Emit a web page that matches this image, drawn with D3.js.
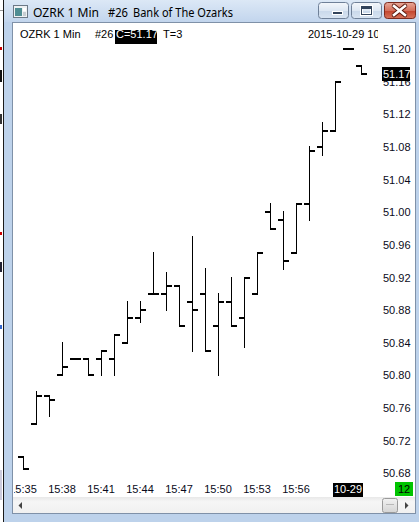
<!DOCTYPE html>
<html><head><meta charset="utf-8">
<script src="https://cdn.jsdelivr.net/npm/d3@7"></script>
<style>body{margin:0;background:#fff;overflow:hidden}svg{display:block}</style>
</head><body>
<script>
// ---- data ----
const times  = ["15:35","15:36","15:37","15:38","15:39","15:40","15:41","15:42","15:43","15:44","15:45","15:46","15:47","15:48","15:49","15:50","15:51","15:52","15:53","15:54","15:55","15:56","15:57","15:58","15:59","16:00","16:01"];
const opens  = [50.70,50.74,50.775,50.80,50.82,50.82,50.82,50.82,50.84,50.87,50.90,50.90,50.91,50.89,50.90,50.86,50.89,50.87,50.90,51.00,50.99,50.95,51.01,51.08,51.10,51.20,51.18];
const highs  = [50.70,50.78,50.775,50.84,50.82,50.82,50.83,50.85,50.89,50.89,50.95,50.925,50.91,50.97,50.93,50.90,50.92,50.92,50.95,51.01,51.00,51.01,51.08,51.11,51.16,51.20,51.18];
const lows   = [50.685,50.74,50.75,50.80,50.82,50.80,50.80,50.80,50.84,50.865,50.90,50.88,50.86,50.83,50.83,50.80,50.86,50.835,50.90,50.98,50.93,50.95,50.99,51.07,51.10,51.20,51.17];
const closes = [50.685,50.775,50.77,50.81,50.82,50.80,50.83,50.85,50.87,50.88,50.90,50.91,50.86,50.88,50.83,50.89,50.86,50.92,50.95,50.98,50.94,51.01,51.075,51.10,51.16,51.20,51.17];
const priceTicks = [51.20,51.16,51.12,51.08,51.04,51.00,50.96,50.92,50.88,50.84,50.80,50.76,50.72,50.68];
const timeTickLabels = ["15:35","15:38","15:41","15:44","15:47","15:50","15:53","15:56"];
const dateTickTime = "16:00", dateTickText = "10-29";
const lastPrice = 51.17;
const windowTitle = ["OZRK 1 Min", "#26", "Bank of The Ozarks"];
const headerText = ["OZRK 1 Min", "#26", "C=51.17", "T=3", "2015-10-29 10:01"];
const badgeText = "12";

const W = 419, H = 522;
const svg = d3.select("body").append("svg").attr("width", W).attr("height", H)
  .attr("shape-rendering", "crispEdges");
const defs = svg.append("defs");

function grad(id, stops) {
  const g = defs.append("linearGradient").attr("id", id).attr("x1",0).attr("y1",0).attr("x2",0).attr("y2",1);
  stops.forEach(([o,c]) => g.append("stop").attr("offset", o).attr("stop-color", c));
}
grad("gTitle", [[0,"#dce8f6"],[1,"#c2d5ed"]]);
grad("gBtn", [[0,"#f4f7fb"],[0.5,"#dde7f3"],[0.51,"#c9d8ea"],[1,"#d8e4f2"]]);
grad("gClose", [[0,"#e9a99a"],[0.5,"#d4705c"],[0.51,"#c2432c"],[1,"#d7745c"]]);
grad("gThumb", [[0,"#f2f2f2"],[1,"#d4d4d4"]]);
grad("gTrack", [[0,"#e8e8e8"],[0.3,"#f6f6f6"],[1,"#f0f0f0"]]);

// background window strip on the far left
svg.append("rect").attr("x",0).attr("y",0).attr("width",3).attr("height",H).attr("fill","#fff");
svg.append("rect").attr("x",0).attr("y",10).attr("width",3).attr("height",1).attr("fill","#999");
[[47,3,"#c00"],[70,12,"#111"],[114,10,"#333"],[232,3,"#c00"],[262,10,"#223"],[325,4,"#36c"],[470,30,"#ccd"]]
  .forEach(([y,h,c]) => svg.append("rect").attr("x",0).attr("y",y).attr("width",2).attr("height",h).attr("fill",c));

// window frame
svg.append("rect").attr("x",3).attr("y",0).attr("width",W-3).attr("height",H).attr("fill","#bdd2eb");
svg.append("rect").attr("x",3).attr("y",0).attr("width",1).attr("height",H).attr("fill","#1a1a1a");
svg.append("rect").attr("x",4).attr("y",0).attr("width",W-4).attr("height",22).attr("fill","url(#gTitle)");

// title icon
svg.append("rect").attr("x",13.5).attr("y",5.5).attr("width",14).attr("height",12).attr("fill","#eef1f3").attr("stroke","#6c7886");
svg.append("rect").attr("x",15).attr("y",8).attr("width",7).attr("height",8).attr("fill","#4f8d93");
svg.append("rect").attr("x",23).attr("y",8).attr("width",3).attr("height",3).attr("fill","#fff");
svg.append("rect").attr("x",23).attr("y",12).attr("width",3).attr("height",4).attr("fill","#c7cdd2");

// title text
const tFont = "'Noto Sans', 'Open Sans', sans-serif";
[[33,66],[108,20],[133,100]].forEach(([x,len],i) =>
  svg.append("text").attr("x",x).attr("y",16.5).attr("font-family",tFont).attr("font-size",12)
    .attr("textLength",len).attr("lengthAdjust","spacingAndGlyphs").attr("fill","#000")
    .attr("shape-rendering",null).text(windowTitle[i]));

// caption buttons
function btn(x, w, fill, stroke) {
  return svg.append("rect").attr("x",x+0.5).attr("y",2.5).attr("width",w).attr("height",16).attr("rx",3)
    .attr("fill",fill).attr("stroke",stroke).attr("shape-rendering","geometricPrecision");
}
btn(318, 30, "url(#gBtn)", "#6f8098");
btn(351, 30, "url(#gBtn)", "#6f8098");
btn(384, 31, "url(#gClose)", "#7c2a1e");
// minimize glyph
svg.append("rect").attr("x",332.5).attr("y",11.5).attr("width",10).attr("height",3).attr("fill","#33445c").attr("stroke","#fff");
// maximize glyph
svg.append("rect").attr("x",361.5).attr("y",6.5).attr("width",10).attr("height",8).attr("fill","none").attr("stroke","#fff").attr("stroke-width",3);
svg.append("rect").attr("x",361.5).attr("y",6.5).attr("width",10).attr("height",8).attr("fill","none").attr("stroke","#33445c");
svg.append("rect").attr("x",362).attr("y",7).attr("width",9).attr("height",2).attr("fill","#33445c");
// close glyph
const xg = svg.append("g").attr("shape-rendering","geometricPrecision");
xg.append("path").attr("d","M394,6 L405,15 M405,6 L394,15").attr("stroke","#5a1a10").attr("stroke-width",4.5).attr("stroke-linecap","round");
xg.append("path").attr("d","M394,6 L405,15 M405,6 L394,15").attr("stroke","#fff").attr("stroke-width",2.6).attr("stroke-linecap","square");

// client area
svg.append("rect").attr("x",12).attr("y",22).attr("width",404).attr("height",492).attr("fill","#7f91a8");
svg.append("rect").attr("x",13).attr("y",23).attr("width",402).attr("height",474).attr("fill","#fff");

// scrollbar
svg.append("rect").attr("x",13).attr("y",497).attr("width",402).attr("height",16).attr("fill","url(#gTrack)");
svg.append("path").attr("d","M22,502 L22,509 L18.5,505.5 Z").attr("fill","#444").attr("shape-rendering","geometricPrecision");
svg.append("path").attr("d","M405,502 L405,509 L408.5,505.5 Z").attr("fill","#444").attr("shape-rendering","geometricPrecision");
svg.append("rect").attr("x",382.5).attr("y",498.5).attr("width",15).attr("height",14).attr("rx",2)
  .attr("fill","url(#gThumb)").attr("stroke","#9a9a9a").attr("shape-rendering","geometricPrecision");
svg.append("rect").attr("x",386).attr("y",504).attr("width",8).attr("height",1).attr("fill","#b8b8b8");

// ---- chart ----
const cFont = "'Liberation Sans', Arial, sans-serif";
const x = d3.scalePoint().domain(times).range([23, 361]);
const y = d3.scaleLinear().domain([50.68, 51.20]).range([473.3, 49.2]);

defs.append("clipPath").attr("id","plotClip").append("rect").attr("x",14).attr("y",23).attr("width",367).attr("height",455);
defs.append("clipPath").attr("id","axisClip").append("rect").attr("x",381).attr("y",23).attr("width",34).attr("height",454);
defs.append("clipPath").attr("id","timeClip").append("rect").attr("x",14).attr("y",478).attr("width",401).attr("height",19);
defs.append("clipPath").attr("id","headClip").append("rect").attr("x",14).attr("y",23).attr("width",364).attr("height",24);

// bars
const bars = svg.append("g").attr("clip-path","url(#plotClip)");
const data = times.map((t,i) => ({t, o:opens[i], h:highs[i], l:lows[i], c:closes[i]}));
const ry = v => Math.round(y(v));
const g = bars.selectAll("g.bar").data(data).join("g").attr("class","bar");
g.append("rect").attr("x", d => Math.round(x(d.t))).attr("y", d => ry(d.h) - 1)
  .attr("width", 1).attr("height", d => ry(d.l) - ry(d.h) + 2).attr("fill","#000");
g.append("rect").attr("x", d => Math.round(x(d.t)) - 5).attr("y", d => ry(d.o) - 1)
  .attr("width", 5).attr("height", 2).attr("fill","#000");
g.append("rect").attr("x", d => Math.round(x(d.t)) + 1).attr("y", d => ry(d.c) - 1)
  .attr("width", 5).attr("height", 2).attr("fill","#000");

// header
const head = svg.append("g").attr("clip-path","url(#headClip)").attr("font-family",cFont).attr("font-size",11);
head.append("text").attr("x",20).attr("y",38).text(headerText[0]);
head.append("text").attr("x",95).attr("y",38).text(headerText[1]);
head.append("rect").attr("x",115).attr("y",30).attr("width",42).attr("height",14).attr("fill","#000");
head.append("text").attr("x",116).attr("y",38).attr("fill","#fff").text(headerText[2]);
head.append("text").attr("x",163).attr("y",38).text(headerText[3]);
head.append("text").attr("x",308).attr("y",38).text(headerText[4]);

// y axis labels
const yAx = svg.append("g").attr("clip-path","url(#axisClip)").attr("font-family",cFont).attr("font-size",11);
yAx.selectAll("text.tick").data(priceTicks).join("text").attr("class","tick")
  .attr("x",383).attr("y", d => y(d) + 4).attr("fill","#0a0a20").text(d => d.toFixed(2));
const ly = ry(lastPrice);
yAx.append("rect").attr("x",382).attr("y",ly - 7).attr("width",28).attr("height",14).attr("fill","#000");
yAx.append("text").attr("x",383).attr("y",ly + 4).attr("fill","#fff").text(lastPrice.toFixed(2));

// time axis labels
const tAx = svg.append("g").attr("clip-path","url(#timeClip)").attr("font-family",cFont).attr("font-size",11);
tAx.selectAll("text.tick").data(timeTickLabels).join("text").attr("class","tick")
  .attr("x", d => x(d)).attr("y",493).attr("text-anchor","middle").attr("fill","#0a0a20").text(d => d);
tAx.append("rect").attr("x", x(dateTickTime) - 15).attr("y",483).attr("width",30).attr("height",14).attr("fill","#000");
tAx.append("text").attr("x", x(dateTickTime)).attr("y",493).attr("text-anchor","middle").attr("fill","#fff").text(dateTickText);
tAx.append("rect").attr("x",395).attr("y",482).attr("width",18).attr("height",14).attr("fill","#00c400");
tAx.append("text").attr("x",404).attr("y",493).attr("text-anchor","middle").attr("fill","#000").text(badgeText);
</script>
</body></html>
